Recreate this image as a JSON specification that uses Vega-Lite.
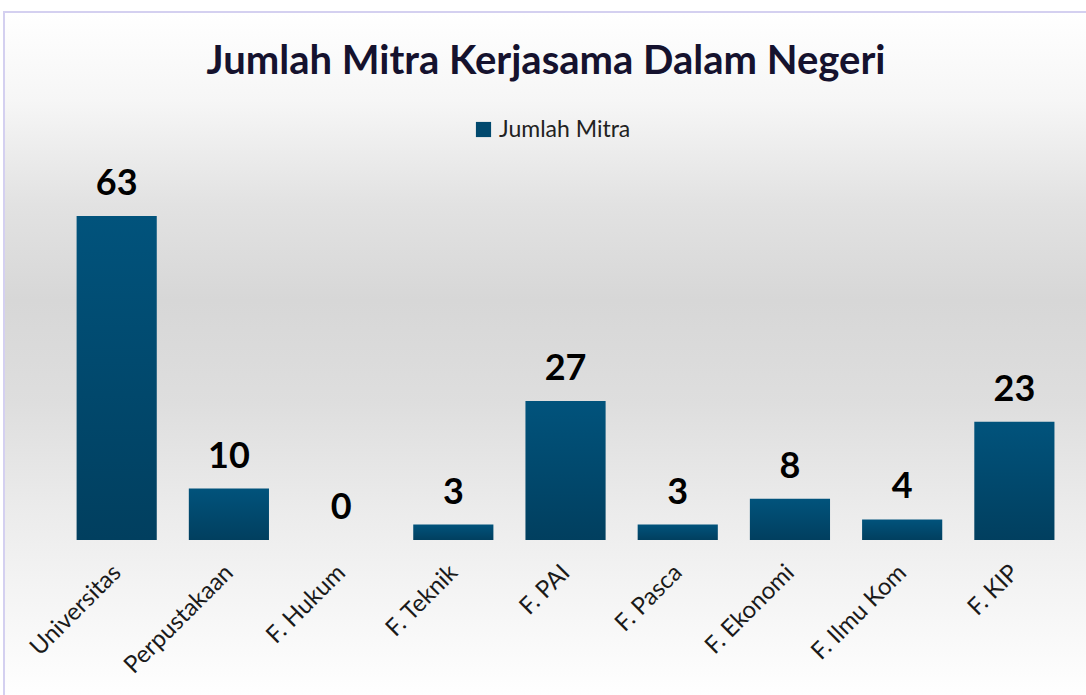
{
  "$schema": "https://vega.github.io/schema/vega-lite/v6.json",
  "width": 1084,
  "height": 687,
  "padding": {"left": 4, "top": 12, "right": -2, "bottom": -4},
  "autosize": {"type": "none"},
  "background": "#ffffff",
  "view": {
    "stroke": "#d4d0f0",
    "strokeWidth": 2,
    "fill": {
      "gradient": "linear", "x1": 0, "y1": 0, "x2": 0, "y2": 1,
      "stops": [
        {"offset": 0, "color": "#ffffff"},
        {"offset": 0.13, "color": "#f6f6f6"},
        {"offset": 0.28, "color": "#e2e2e2"},
        {"offset": 0.42, "color": "#d7d7d7"},
        {"offset": 0.57, "color": "#dedede"},
        {"offset": 0.72, "color": "#ebebeb"},
        {"offset": 0.87, "color": "#f6f6f6"},
        {"offset": 1, "color": "#ffffff"}
      ]
    }
  },
  "title": {
    "text": "Jumlah Mitra Kerjasama Dalam Negeri",
    "font": "Lato",
    "fontSize": 40,
    "fontWeight": "bold",
    "color": "#15122e",
    "anchor": "middle",
    "baseline": "alphabetic",
    "offset": -102
  },
  "data": {
    "values": [
      {"kategori": "Universitas", "jumlah": 63},
      {"kategori": "Perpustakaan", "jumlah": 10},
      {"kategori": "F. Hukum", "jumlah": 0},
      {"kategori": "F. Teknik", "jumlah": 3},
      {"kategori": "F. PAI", "jumlah": 27},
      {"kategori": "F. Pasca", "jumlah": 3},
      {"kategori": "F. Ekonomi", "jumlah": 8},
      {"kategori": "F. Ilmu Kom", "jumlah": 4},
      {"kategori": "F. KIP", "jumlah": 23}
    ]
  },
  "encoding": {
    "x": {
      "field": "kategori", "type": "nominal", "sort": null, "axis": null,
      "scale": {"paddingInner": 0.2857, "paddingOuter": 0.473, "align": 0.684}
    }
  },
  "layer": [
    {
      "mark": {
        "type": "bar",
        "color": {
          "gradient": "linear", "x1": 0, "y1": 0, "x2": 0, "y2": 1,
          "stops": [
            {"offset": 0, "color": "#01537c"},
            {"offset": 1, "color": "#013f5f"}
          ]
        }
      },
      "encoding": {
        "y": {"field": "jumlah", "type": "quantitative", "axis": null,
              "scale": {"domain": [-30.92, 102.66], "nice": false, "zero": false}},
        "y2": {"datum": 0}
      }
    },
    {
      "mark": {"type": "square", "opacity": 0},
      "encoding": {
        "y": {"field": "jumlah", "type": "quantitative"},
        "color": {
          "datum": "Jumlah Mitra",
          "scale": {"range": ["#01496e"]},
          "legend": {
            "title": null,
            "orient": "none",
            "legendX": 468,
            "legendY": 106,
            "symbolType": "square",
            "symbolSize": 230,
            "symbolOpacity": 1,
            "symbolStrokeWidth": 0,
            "labelFont": "Lato",
            "labelFontSize": 23,
            "labelColor": "#222222",
            "labelOffset": 4
          }
        }
      }
    },
    {
      "mark": {"type": "text", "font": "Lato", "fontSize": 36, "fontWeight": "bold", "color": "#000000", "baseline": "alphabetic", "dy": -21},
      "encoding": {
        "y": {"field": "jumlah", "type": "quantitative"},
        "text": {"field": "jumlah", "type": "quantitative"}
      }
    },
    {
      "mark": {"type": "text", "font": "Lato", "fontSize": 24, "color": "#1a1a1a", "angle": 315, "align": "right", "baseline": "middle", "dx": -2, "dy": 3},
      "encoding": {
        "y": {"datum": -5},
        "text": {"field": "kategori", "type": "nominal"}
      }
    }
  ]
}
